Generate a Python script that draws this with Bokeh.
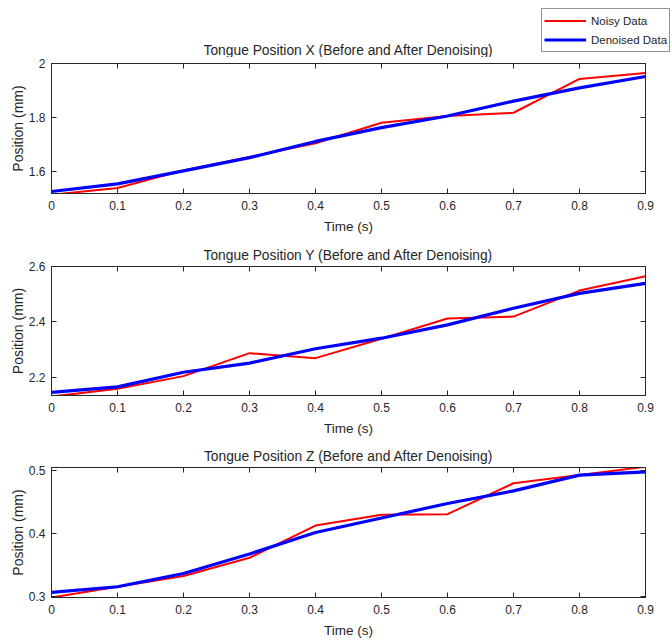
from bokeh.plotting import figure
from bokeh.models import (Range1d, FixedTicker, LinearAxis, Legend, LegendItem, Title, Label)
from bokeh.layouts import column, row
from bokeh.embed import file_html
from bokeh.resources import INLINE

# ---- data ----
time = [0.0, 0.1, 0.2, 0.3, 0.4, 0.5, 0.6, 0.7, 0.8, 0.9]
time_ticks = [0.0, 0.1, 0.2, 0.3, 0.4, 0.5, 0.6, 0.7, 0.8, 0.9]
time_tick_labels = ["0", "0.1", "0.2", "0.3", "0.4", "0.5", "0.6", "0.7", "0.8", "0.9"]

noisy_x = [1.515, 1.540, 1.605, 1.655, 1.705, 1.781, 1.806, 1.818, 1.943, 1.965]
denoised_x = [1.527, 1.555, 1.603, 1.652, 1.712, 1.763, 1.806, 1.861, 1.910, 1.952]
noisy_y = [2.130, 2.158, 2.204, 2.287, 2.269, 2.339, 2.412, 2.419, 2.513, 2.565]
denoised_y = [2.145, 2.165, 2.218, 2.251, 2.303, 2.341, 2.389, 2.449, 2.503, 2.539]
noisy_z = [0.298, 0.315, 0.332, 0.361, 0.412, 0.429, 0.430, 0.479, 0.492, 0.505]
denoised_z = [0.306, 0.315, 0.336, 0.367, 0.401, 0.424, 0.447, 0.467, 0.492, 0.497]

titles = ["Tongue Position X (Before and After Denoising)",
          "Tongue Position Y (Before and After Denoising)",
          "Tongue Position Z (Before and After Denoising)"]
legend_labels = ["Noisy Data", "Denoised Data"]
y_ticks = [[1.6, 1.8, 2.0], [2.2, 2.4, 2.6], [0.3, 0.4, 0.5]]
y_tick_labels = [["1.6", "1.8", "2"], ["2.2", "2.4", "2.6"], ["0.3", "0.4", "0.5"]]
y_limits = [(1.5196, 2.0), (2.134, 2.6), (0.298, 0.504)]

FONT = "Liberation Sans"
TXT = "#262626"
RED = "#ff0000"
BLUE = "#0000ff"

# ---- header strip: legend + first title (kept outside the clipped plot frame) ----
# the series are drawn here outside the visible range; only their legend entries show
head = figure(width=672, height=57, output_backend="svg", toolbar_location=None,
              x_range=Range1d(10, 11), y_range=Range1d(10, 11),
              x_axis_location=None, y_axis_location=None,
              min_border=0, min_border_left=0, min_border_right=0,
              min_border_top=0, min_border_bottom=0)
head.grid.visible = False
head.outline_line_color = None
head.background_fill_color = "white"
head.border_fill_color = "white"
lr1 = head.line(time, noisy_x, line_color=RED, line_width=2)
lr2 = head.line(time, denoised_x, line_color=BLUE, line_width=3.2)
legend = Legend(items=[LegendItem(label=legend_labels[0], renderers=[lr1]),
                       LegendItem(label=legend_labels[1], renderers=[lr2])],
                location=(541, 5), orientation="vertical")
legend.label_text_font = FONT
legend.label_text_font_size = "11.5px"
legend.label_text_color = TXT
legend.border_line_color = TXT
legend.border_line_width = 1
legend.background_fill_color = "white"
legend.background_fill_alpha = 1
legend.padding = 2
legend.margin = 0
legend.spacing = 0
legend.glyph_width = 42
legend.glyph_height = 19
legend.label_height = 19
legend.label_standoff = 5
head.add_layout(legend, "center")
head.add_layout(Label(x=348, y=7, x_units="screen", y_units="screen", text=titles[0],
                      text_align="center", text_baseline="middle",
                      text_font=FONT, text_font_size="13.8px", text_color=TXT))

series = [(noisy_x, denoised_x), (noisy_y, denoised_y), (noisy_z, denoised_z)]
heights = [181, 202, 201]
tops = [6, 28, 27]
bottoms = [45, 45, 44]

figs = []
for i in range(3):
    p = figure(width=672, height=heights[i], output_backend="svg", toolbar_location=None,
               title=None,
               x_range=Range1d(0, 0.9), y_range=Range1d(*y_limits[i]),
               min_border_left=51, min_border_right=27,
               min_border_top=tops[i], min_border_bottom=bottoms[i],
               x_axis_label="Time (s)", y_axis_label="Position (mm)")
    p.grid.visible = False
    p.outline_line_color = TXT
    p.outline_line_width = 1
    p.background_fill_color = "white"
    p.border_fill_color = "white"

    noisy, den = series[i]
    p.line(time, noisy, line_color=RED, line_width=2)
    p.line(time, den, line_color=BLUE, line_width=3.2)

    for ax in p.xaxis:
        ax.ticker = FixedTicker(ticks=time_ticks)
        ax.major_label_overrides = {t: l for t, l in zip(time_ticks, time_tick_labels)}
    for ax in p.yaxis:
        ax.ticker = FixedTicker(ticks=y_ticks[i])
        ax.major_label_overrides = {t: l for t, l in zip(y_ticks[i], y_tick_labels[i])}

    for ax in list(p.xaxis) + list(p.yaxis):
        ax.major_tick_in = 5
        ax.major_tick_out = 0
        ax.minor_tick_in = 0
        ax.minor_tick_out = 0
        ax.axis_line_color = TXT
        ax.major_tick_line_color = TXT
        ax.major_label_text_font = FONT
        ax.major_label_text_font_size = "12px"
        ax.major_label_text_color = TXT
        ax.axis_label_text_font = FONT
        ax.axis_label_text_font_size = "13.5px"
        ax.axis_label_text_font_style = "normal"
        ax.axis_label_text_color = TXT
        ax.major_label_standoff = 7
        ax.axis_label_standoff = 6
    p.yaxis.axis_label_text_font_size = "14px"
    p.yaxis.major_label_standoff = 6
    p.yaxis.axis_label_standoff = 0

    # right-side inward ticks (box)
    ra = LinearAxis(ticker=FixedTicker(ticks=y_ticks[i]), major_tick_in=5, major_tick_out=0,
                    minor_tick_in=0, minor_tick_out=0,
                    major_label_overrides={t: "" for t in y_ticks[i]},
                    axis_line_color=TXT, major_tick_line_color=TXT, major_label_standoff=0)
    p.add_layout(ra, "right")
    # top inward ticks (box)
    ta = LinearAxis(ticker=FixedTicker(ticks=time_ticks), major_tick_in=5, major_tick_out=0,
                    minor_tick_in=0, minor_tick_out=0,
                    major_label_overrides={t: "" for t in time_ticks},
                    axis_line_color=TXT, major_tick_line_color=TXT, major_label_standoff=0)
    p.add_layout(ta, "above")

    if i > 0:
        t = Title(text=titles[i], align="center", text_font=FONT, text_font_size="13.8px",
                  text_font_style="normal", text_color=TXT, standoff=8)
        p.add_layout(t, "above")
    figs.append(p)

layout = column(row(head), column(*figs, spacing=0), spacing=0)
open("out.html", "w").write(file_html(layout, INLINE))
